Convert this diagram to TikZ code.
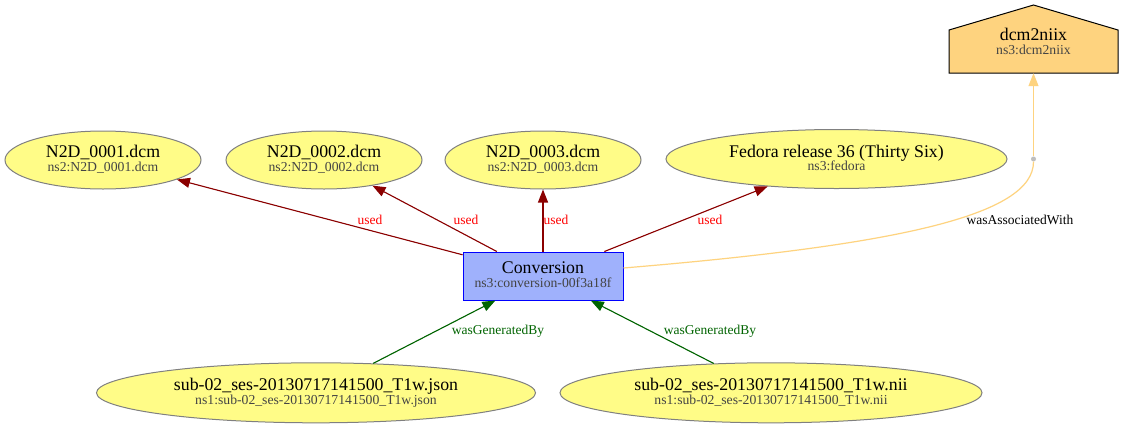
\documentclass[tikz,border=0pt]{standalone}
\usepackage{fontspec}
\setmainfont{Liberation Serif}
\usetikzlibrary{shapes.geometric,arrows.meta}
\definecolor{entfill}{HTML}{FFFC87}
\definecolor{entdraw}{HTML}{808080}
\definecolor{actfill}{HTML}{9FB1FC}
\definecolor{actdraw}{HTML}{0000FF}
\definecolor{agfill}{HTML}{FED37F}
\definecolor{usedc}{HTML}{8B0000}
\definecolor{usedl}{HTML}{FF0000}
\definecolor{genc}{HTML}{006400}
\definecolor{subc}{HTML}{444444}
\definecolor{dotc}{HTML}{BEBEBE}
\tikzset{
  entity/.style={ellipse, fill=entfill, draw=entdraw, line width=1pt, inner sep=0pt},
  activity/.style={rectangle, fill=actfill, draw=actdraw, line width=1pt, inner sep=0pt, minimum width=160pt, minimum height=48pt},
  maintxt/.style={anchor=base, inner sep=0pt, font=\fontsize{17.8}{20}\selectfont},
  subtxt/.style={anchor=base, inner sep=0pt, text=subc, font=\fontsize{13.7}{16}\selectfont},
  edgelbl/.style={anchor=base, inner sep=0pt, font=\fontsize{13.5}{16}\selectfont},
  tip/.style={-{Triangle[length=13pt,width=10pt]}},
  usededge/.style={tip, draw=usedc, fill=usedc, line width=1.1pt},
  genedge/.style={tip, draw=genc, fill=genc, line width=1.1pt},
  assocedge/.style={draw=agfill, line width=1.2pt},
}
\begin{document}
\begin{tikzpicture}[x=1pt,y=-1pt]
\useasboundingbox (0,0) rectangle (1124,429);
\fill[white] (0,0) rectangle (1124,429);

% entities top row
\node[entity, minimum width=196pt, minimum height=58pt] (e1) at (103,160) {};
\node[entity, minimum width=196pt, minimum height=58pt] (e2) at (324,160) {};
\node[entity, minimum width=196pt, minimum height=58pt] (e3) at (543,160) {};
\node[entity, minimum width=341pt, minimum height=59pt] (fed) at (836.5,159) {};
\node[maintxt] (e1m) at (103,157) {N2D\_0001.dcm};
\node[subtxt] (e1s) at (103,171) {ns2:N2D\_0001.dcm};
\node[maintxt] (e2m) at (324,157) {N2D\_0002.dcm};
\node[subtxt] (e2s) at (324,171) {ns2:N2D\_0002.dcm};
\node[maintxt] (e3m) at (543,157) {N2D\_0003.dcm};
\node[subtxt] (e3s) at (543,171) {ns2:N2D\_0003.dcm};
\node[maintxt] (fedm) at (836.5,157) {Fedora release 36 (Thirty Six)};
\node[subtxt] (feds) at (836.5,170.5) {ns3:fedora};

% activity
\node[activity] (conv) at (543,276) {};
\node[maintxt] (convm) at (543,273.5) {Conversion};
\node[subtxt] (convs) at (543,287) {ns3:conversion-00f3a18f};

% bottom entities
\node[entity, minimum width=439pt, minimum height=60pt] (json) at (316,392.8) {};
\node[maintxt] (jsonm) at (316,390) {sub-02\_ses-20130717141500\_T1w.json};
\node[subtxt] (jsons) at (316,404) {ns1:sub-02\_ses-20130717141500\_T1w.json};
\node[entity, minimum width=422pt, minimum height=60pt] (nii) at (771,392.8) {};
\node[maintxt] (niim) at (771,390) {sub-02\_ses-20130717141500\_T1w.nii};
\node[subtxt] (niis) at (771,404) {ns1:sub-02\_ses-20130717141500\_T1w.nii};

% agent (house)
\draw[fill=agfill, draw=black, line width=1pt] (949,30) -- (1033.5,5) -- (1118,30) -- (1118,73) -- (949,73) -- cycle;
\node[rectangle, inner sep=0pt, minimum width=169pt, minimum height=68pt] (agent) at (1033.5,39) {};
\node[maintxt] (agm) at (1033.5,40) {dcm2niix};
\node[subtxt] (ags) at (1033.5,54.3) {ns3:dcm2niix};

% association point
\node[circle, fill=dotc, inner sep=0pt, minimum size=5pt] (pt) at (1033.5,159) {};

% used edges
\draw[usededge] (conv) -- (e1);
\draw[usededge] (conv) -- (e2);
\draw[usededge] (conv) -- (e3);
\draw[usededge] (conv) -- (fed);
\node[edgelbl, text=usedl] (u1) at (370,224) {used};
\node[edgelbl, text=usedl] (u2) at (466,224) {used};
\node[edgelbl, text=usedl] (u3) at (556,224) {used};
\node[edgelbl, text=usedl] (u4) at (710,224) {used};

% generation edges
\draw[genedge] (json) -- (conv);
\draw[genedge] (nii) -- (conv);
\node[edgelbl, text=genc] (g1) at (498,334) {wasGeneratedBy};
\node[edgelbl, text=genc] (g2) at (710,334) {wasGeneratedBy};

% association
\draw[assocedge] ([yshift=8pt]conv.east) .. controls (900,245) and (1033.5,215) .. (pt);
\draw[assocedge, -{Triangle[length=13pt,width=10pt,fill=agfill]}] (pt.north) -- (agent.south);
\node[edgelbl] (al) at (1020,224) {wasAssociatedWith};
\end{tikzpicture}
\end{document}
